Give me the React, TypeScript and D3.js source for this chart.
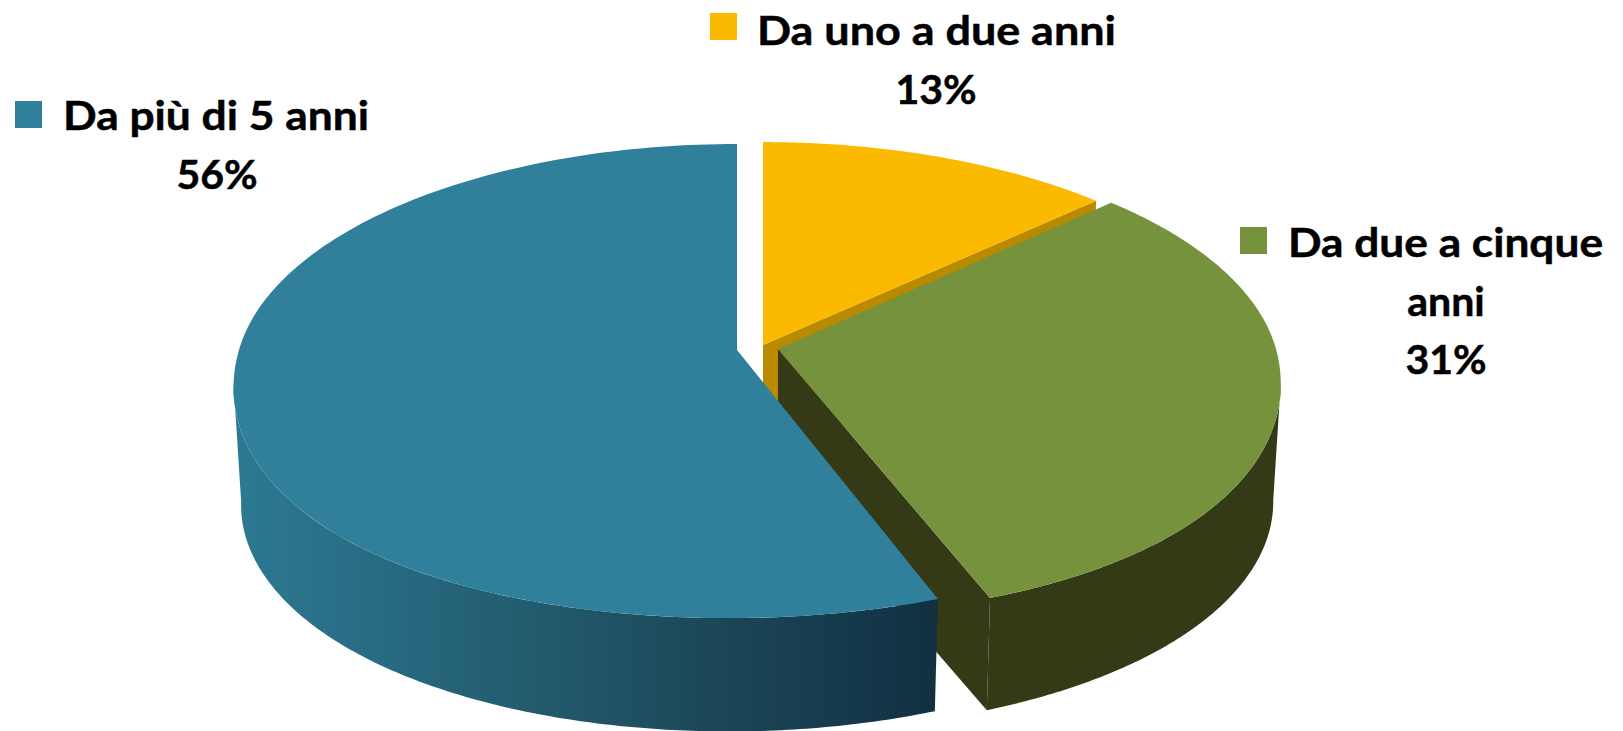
import React from "react";
import * as d3 from "d3";

const categories = ["Da uno a due anni", "Da due a cinque anni", "Da più di 5 anni"];
const shares = [13, 31, 56];

const topColors = ["#FBBA00", "#76923C", "#31809B"];
const faceColors = ["#B98A00", "#333A15", "#333A15"];
const apexX = [763, 778, 737];
const apexY = [345, 349, 350];
const skew = [0, 3.5, -8.5];
const squash = [0.985, 1, 1];

const R = 498;
const Q = 233;
const K = 0.131;
const DEPTH = 120;
const SHRINK_X = 0.985;
const SHRINK_Y = 0.975;
const TANGENT = Math.acos(K);
const FONT = "Lato, Carlito, Calibri, sans-serif";

type Pt = [number, number];

function rim(i: number, a: number, bottom: boolean): Pt {
  const u = Math.sin(a);
  const v = -Math.cos(a);
  const s = 1 / (1 - K * v);
  const fx = bottom ? SHRINK_X : 1;
  const fy = bottom ? SHRINK_Y : 1;
  const front = Math.max(v, 0);
  const bulge = (bottom ? 5 : 18) * u * u * front;
  const back = v < 0 ? squash[i] : 1;
  return [
    apexX[i] + fx * (R * u * s + skew[i] * front),
    apexY[i] + fy * Q * v * s * back + bulge + (bottom ? DEPTH : 0),
  ];
}
function apex(i: number, bottom: boolean): Pt {
  return [apexX[i], apexY[i] + (bottom ? DEPTH : 0)];
}
function sweep(a0: number, a1: number): number[] {
  const n = 160;
  return d3.range(n + 1).map((k) => a0 + ((a1 - a0) * k) / n);
}

const line = d3.line<Pt>().x((d) => d[0]).y((d) => d[1]);
const closed = (pts: Pt[]) => (line(pts) || "") + "Z";

const arcs = d3.pie<number>().sort(null).value((d) => d)(shares);

function Slice({ i }: { i: number }) {
  const { startAngle: a0, endAngle: a1 } = arcs[i];
  const top = closed([apex(i, false), ...sweep(a0, a1).map((a) => rim(i, a, false))]);
  const faceAngle = i === 2 ? a0 : a1;
  const face = closed([apex(i, false), rim(i, faceAngle, false), rim(i, faceAngle, true), apex(i, true)]);
  // outer wall, from silhouette tangent to silhouette tangent
  const wallFrom = Math.max(a0, Math.PI - TANGENT);
  const wallTo = Math.min(a1, Math.PI + TANGENT);
  const hasWall = wallTo > wallFrom;
  const wallAngles = sweep(wallFrom, wallTo);
  const wall = hasWall
    ? closed([
        ...wallAngles.map((a) => rim(i, a, false)),
        ...wallAngles.slice().reverse().map((a) => rim(i, a, true)),
      ])
    : "";
  return (
    <g>
      {i !== 2 && <path d={face} fill={faceColors[i]} />}
      {hasWall && <path d={wall} fill={i === 2 ? "url(#blueWall)" : faceColors[i]} />}
      <path d={top} fill={topColors[i]} />
    </g>
  );
}

function Label({
  sx, sy, color, lines, cx, tx, y0, width,
}: {
  sx: number; sy: number; color: string; lines: string[]; cx: number; tx: number; y0: number; width: number;
}) {
  return (
    <g fontFamily={FONT} fontWeight={700} fontSize={41} fill="#000" stroke="#000" strokeWidth={0.5}>
      <rect x={sx} y={sy} width={27} height={27} fill={color} stroke="none" />
      <text x={tx} y={y0} textLength={width} lengthAdjust="spacingAndGlyphs">{lines[0]}</text>
      {lines.slice(1).map((t, k) => (
        <text key={k} x={cx} y={y0 + (k + 1) * 58.5} textAnchor="middle">{t}</text>
      ))}
    </g>
  );
}

export default function App() {
  return (
    <svg
      width={1623}
      height={731}
      viewBox="0 0 1623 731"
      style={{ position: "absolute", left: 0, top: 0, display: "block", background: "#fff" }}
    >
      <defs>
        <linearGradient id="blueWall" gradientUnits="userSpaceOnUse" x1={232} x2={938} y1={0} y2={0}>
          <stop offset="0" stopColor="#2C7A92" />
          <stop offset="0.15" stopColor="#296F87" />
          <stop offset="0.4" stopColor="#235D70" />
          <stop offset="0.7" stopColor="#1B4656" />
          <stop offset="0.9" stopColor="#14374A" />
          <stop offset="1" stopColor="#113040" />
        </linearGradient>
      </defs>
      {[0, 1, 2].map((i) => <Slice key={i} i={i} />)}
      <Label sx={710} sy={13} color={topColors[0]} tx={757} y0={45} width={359}
        cx={936} lines={[categories[0], `${shares[0]}%`]} />
      <Label sx={1240} sy={227} color={topColors[1]} tx={1288} y0={257} width={315}
        cx={1446} lines={["Da due a cinque", "anni", `${shares[1]}%`]} />
      <Label sx={15} sy={101} color={topColors[2]} tx={63} y0={130} width={306}
        cx={217} lines={[categories[2], `${shares[2]}%`]} />
    </svg>
  );
}
